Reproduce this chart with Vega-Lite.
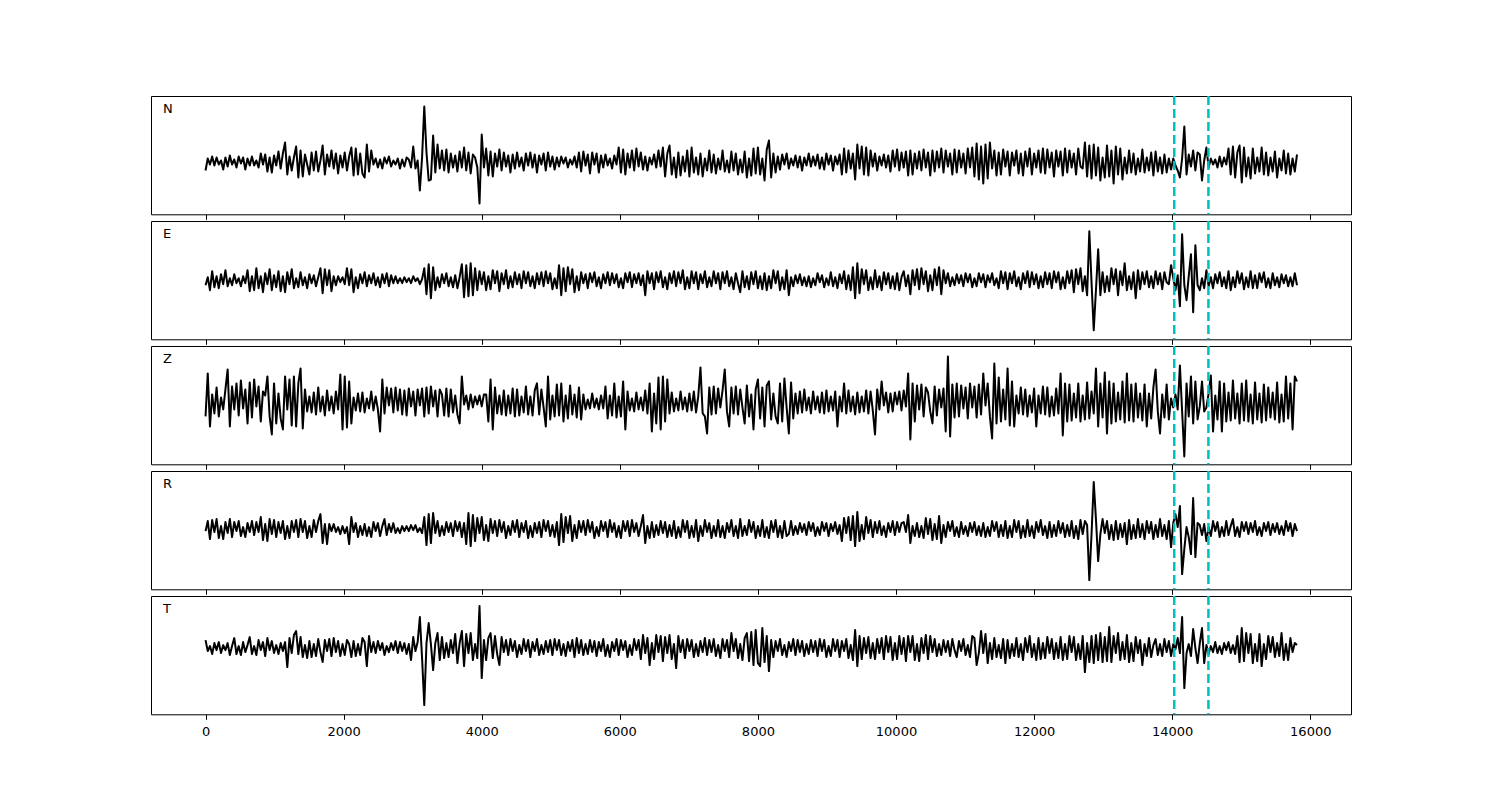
{
"$schema": "https://vega.github.io/schema/vega-lite/v6.json",
"background": "white",
"padding": {"left": 150, "top": 94, "right": 5, "bottom": 5},
"bounds": "flush",
"spacing": 6,
"config": {
  "view": {"stroke": "black", "strokeWidth": 1},
  "font": "DejaVu Sans",
  "axis": {"labelFont": "DejaVu Sans", "labelFontSize": 13, "labelColor": "black", "tickColor": "black", "tickSize": 5, "tickWidth": 1, "domain": false, "grid": false, "title": null, "format": "d"}
},
"datasets": {
"p": [{"t": 14030}, {"t": 14525}],
"w": [
{"t":0,"N":-8,"E":-5,"Z":-15,"R":-2,"T":8},
{"t":32,"N":4,"E":3,"Z":28,"R":8,"T":-3},
{"t":64,"N":-2,"E":-10,"Z":-25,"R":-10,"T":2},
{"t":96,"N":6,"E":9,"Z":7,"R":9,"T":-6},
{"t":128,"N":-3,"E":-7,"Z":-12,"R":-3,"T":5},
{"t":160,"N":5,"E":4,"Z":14,"R":10,"T":-2},
{"t":192,"N":-2,"E":-8,"Z":-15,"R":-9,"T":6},
{"t":224,"N":2,"E":6,"Z":4,"R":3,"T":-5},
{"t":256,"N":-7,"E":-4,"Z":-8,"R":-10,"T":3},
{"t":288,"N":5,"E":10,"Z":12,"R":7,"T":-2},
{"t":320,"N":-4,"E":-6,"Z":32,"R":-4,"T":5},
{"t":352,"N":7,"E":2,"Z":-25,"R":10,"T":-7},
{"t":384,"N":-2,"E":-5,"Z":15,"R":-8,"T":2},
{"t":416,"N":3,"E":6,"Z":-8,"R":7,"T":10},
{"t":448,"N":-5,"E":-3,"Z":18,"R":-2,"T":-6},
{"t":480,"N":6,"E":2,"Z":-14,"R":8,"T":2},
{"t":512,"N":-1,"E":-6,"Z":21,"R":-7,"T":-7},
{"t":544,"N":5,"E":4,"Z":-7,"R":2,"T":6},
{"t":576,"N":-7,"E":-3,"Z":12,"R":-8,"T":-4},
{"t":608,"N":4,"E":10,"Z":-22,"R":6,"T":3},
{"t":640,"N":-3,"E":-11,"Z":19,"R":-3,"T":11},
{"t":672,"N":6,"E":4,"Z":-16,"R":8,"T":-6},
{"t":704,"N":-3,"E":-10,"Z":22,"R":-6,"T":2},
{"t":736,"N":2,"E":12,"Z":-5,"R":7,"T":-7},
{"t":768,"N":-5,"E":-8,"Z":15,"R":-3,"T":8},
{"t":800,"N":9,"E":4,"Z":-20,"R":12,"T":-2},
{"t":832,"N":-2,"E":-12,"Z":10,"R":-11,"T":6},
{"t":864,"N":8,"E":7,"Z":6,"R":5,"T":-8},
{"t":896,"N":-9,"E":-4,"Z":25,"R":-12,"T":10},
{"t":928,"N":5,"E":11,"Z":-15,"R":10,"T":-2},
{"t":960,"N":-10,"E":-10,"Z":-33,"R":-5,"T":7},
{"t":992,"N":7,"E":5,"Z":18,"R":9,"T":-5},
{"t":1024,"N":-3,"E":-7,"Z":-22,"R":-8,"T":3},
{"t":1056,"N":11,"E":9,"Z":8,"R":7,"T":-6},
{"t":1088,"N":-6,"E":-11,"Z":-17,"R":-4,"T":5},
{"t":1120,"N":9,"E":4,"Z":-28,"R":8,"T":-3},
{"t":1152,"N":20,"E":-12,"Z":25,"R":-10,"T":6},
{"t":1184,"N":-12,"E":8,"Z":-8,"R":3,"T":-19},
{"t":1216,"N":6,"E":-4,"Z":22,"R":-9,"T":10},
{"t":1248,"N":-8,"E":11,"Z":-24,"R":8,"T":-5},
{"t":1280,"N":5,"E":-8,"Z":25,"R":-3,"T":13},
{"t":1312,"N":16,"E":2,"Z":-25,"R":9,"T":17},
{"t":1344,"N":-15,"E":-7,"Z":18,"R":-8,"T":-6},
{"t":1376,"N":12,"E":8,"Z":33,"R":10,"T":11},
{"t":1408,"N":-14,"E":-5,"Z":-27,"R":-3,"T":-9},
{"t":1440,"N":8,"E":3,"Z":12,"R":8,"T":3},
{"t":1472,"N":-2,"E":-8,"Z":-10,"R":-9,"T":-10},
{"t":1504,"N":-12,"E":6,"Z":5,"R":3,"T":7},
{"t":1536,"N":10,"E":-3,"Z":-11,"R":-8,"T":-9},
{"t":1568,"N":-8,"E":5,"Z":9,"R":9,"T":4},
{"t":1600,"N":11,"E":-6,"Z":-13,"R":-3,"T":-8},
{"t":1632,"N":-9,"E":3,"Z":14,"R":8,"T":9},
{"t":1664,"N":2,"E":12,"Z":-10,"R":15,"T":-4},
{"t":1696,"N":17,"E":-13,"Z":5,"R":-14,"T":-14},
{"t":1728,"N":-12,"E":11,"Z":-14,"R":5,"T":8},
{"t":1760,"N":8,"E":-5,"Z":11,"R":-15,"T":-3},
{"t":1792,"N":-4,"E":10,"Z":-9,"R":5,"T":9},
{"t":1824,"N":12,"E":-11,"Z":5,"R":-2,"T":-8},
{"t":1856,"N":-6,"E":4,"Z":-12,"R":5,"T":10},
{"t":1888,"N":9,"E":-5,"Z":10,"R":-3,"T":-4},
{"t":1920,"N":-11,"E":4,"Z":-8,"R":2,"T":7},
{"t":1952,"N":7,"E":-2,"Z":27,"R":-5,"T":-8},
{"t":1984,"N":-5,"E":3,"Z":-28,"R":3,"T":4},
{"t":2016,"N":10,"E":-4,"Z":25,"R":-4,"T":-7},
{"t":2048,"N":-8,"E":12,"Z":-26,"R":2,"T":8},
{"t":2080,"N":6,"E":-5,"Z":20,"R":-15,"T":4},
{"t":2112,"N":15,"E":11,"Z":-22,"R":12,"T":-9},
{"t":2144,"N":-13,"E":-12,"Z":4,"R":-3,"T":7},
{"t":2176,"N":14,"E":3,"Z":-9,"R":6,"T":-8},
{"t":2208,"N":-12,"E":-8,"Z":8,"R":-8,"T":4},
{"t":2240,"N":9,"E":6,"Z":-10,"R":3,"T":-7},
{"t":2272,"N":-11,"E":-3,"Z":9,"R":-6,"T":10},
{"t":2304,"N":-15,"E":8,"Z":-11,"R":5,"T":6},
{"t":2336,"N":18,"E":-6,"Z":3,"R":-7,"T":-18},
{"t":2368,"N":-9,"E":5,"Z":-7,"R":2,"T":12},
{"t":2400,"N":12,"E":-3,"Z":10,"R":-8,"T":-4},
{"t":2432,"N":-2,"E":7,"Z":-9,"R":7,"T":6},
{"t":2464,"N":4,"E":-5,"Z":5,"R":-2,"T":-5},
{"t":2496,"N":-5,"E":3,"Z":-8,"R":6,"T":7},
{"t":2528,"N":3,"E":-7,"Z":-30,"R":-7,"T":-2},
{"t":2560,"N":-6,"E":6,"Z":22,"R":3,"T":5},
{"t":2592,"N":5,"E":-3,"Z":-12,"R":10,"T":-7},
{"t":2624,"N":-1,"E":7,"Z":14,"R":-6,"T":2},
{"t":2656,"N":6,"E":-6,"Z":-4,"R":5,"T":-4},
{"t":2688,"N":-4,"E":5,"Z":13,"R":-3,"T":5},
{"t":2720,"N":2,"E":-3,"Z":-11,"R":6,"T":-2},
{"t":2752,"N":-2,"E":4,"Z":14,"R":-4,"T":7},
{"t":2784,"N":4,"E":-3,"Z":-9,"R":1,"T":-5},
{"t":2816,"N":-6,"E":2,"Z":12,"R":-4,"T":6},
{"t":2848,"N":3,"E":-3,"Z":-13,"R":3,"T":-3},
{"t":2880,"N":-4,"E":3,"Z":11,"R":-2,"T":5},
{"t":2912,"N":5,"E":-2,"Z":-14,"R":3,"T":-6},
{"t":2944,"N":3,"E":2,"Z":13,"R":-2,"T":4},
{"t":2976,"N":-5,"E":-3,"Z":-5,"R":4,"T":-12},
{"t":3008,"N":16,"E":4,"Z":10,"R":-1,"T":11},
{"t":3040,"N":-6,"E":-1,"Z":-14,"R":4,"T":-3},
{"t":3072,"N":2,"E":2,"Z":12,"R":-3,"T":6},
{"t":3104,"N":-28,"E":-4,"Z":-4,"R":1,"T":31},
{"t":3136,"N":5,"E":1,"Z":13,"R":-4,"T":-10},
{"t":3168,"N":56,"E":12,"Z":-15,"R":12,"T":-57},
{"t":3200,"N":10,"E":-14,"Z":14,"R":-16,"T":5},
{"t":3232,"N":-18,"E":16,"Z":-12,"R":15,"T":25},
{"t":3264,"N":-17,"E":-18,"Z":15,"R":-14,"T":4},
{"t":3296,"N":27,"E":13,"Z":-5,"R":16,"T":-22},
{"t":3328,"N":-10,"E":-10,"Z":11,"R":-4,"T":5},
{"t":3360,"N":18,"E":3,"Z":-15,"R":8,"T":15},
{"t":3392,"N":-6,"E":-7,"Z":12,"R":-7,"T":-12},
{"t":3424,"N":12,"E":6,"Z":7,"R":3,"T":11},
{"t":3456,"N":-8,"E":-3,"Z":-14,"R":-6,"T":-10},
{"t":3488,"N":13,"E":7,"Z":13,"R":7,"T":5},
{"t":3520,"N":-10,"E":-6,"Z":-15,"R":-3,"T":-9},
{"t":3552,"N":9,"E":3,"Z":12,"R":6,"T":8},
{"t":3584,"N":-5,"E":-7,"Z":-11,"R":-7,"T":-5},
{"t":3616,"N":7,"E":5,"Z":6,"R":8,"T":14},
{"t":3648,"N":-9,"E":-8,"Z":-13,"R":-2,"T":-15},
{"t":3680,"N":11,"E":3,"Z":-22,"R":7,"T":5},
{"t":3712,"N":-5,"E":16,"Z":25,"R":-8,"T":17},
{"t":3744,"N":15,"E":-17,"Z":-3,"R":6,"T":-18},
{"t":3776,"N":-8,"E":15,"Z":6,"R":-15,"T":14},
{"t":3808,"N":10,"E":-16,"Z":-8,"R":16,"T":-5},
{"t":3840,"N":-11,"E":17,"Z":7,"R":-17,"T":15},
{"t":3872,"N":8,"E":-15,"Z":-6,"R":14,"T":-12},
{"t":3904,"N":5,"E":12,"Z":5,"R":-12,"T":4},
{"t":3936,"N":-5,"E":-10,"Z":-3,"R":11,"T":-10},
{"t":3968,"N":-41,"E":9,"Z":6,"R":-4,"T":42},
{"t":4000,"N":28,"E":-4,"Z":-5,"R":12,"T":-30},
{"t":4032,"N":-5,"E":8,"Z":7,"R":-11,"T":8},
{"t":4064,"N":14,"E":-10,"Z":7,"R":4,"T":-12},
{"t":4096,"N":-13,"E":4,"Z":-20,"R":-12,"T":10},
{"t":4128,"N":11,"E":-9,"Z":22,"R":10,"T":15},
{"t":4160,"N":-14,"E":10,"Z":-28,"R":-4,"T":-10},
{"t":4192,"N":9,"E":-3,"Z":14,"R":8,"T":12},
{"t":4224,"N":-4,"E":9,"Z":-12,"R":-7,"T":-6},
{"t":4256,"N":13,"E":-11,"Z":6,"R":9,"T":-17},
{"t":4288,"N":-8,"E":7,"Z":-13,"R":-3,"T":11},
{"t":4320,"N":10,"E":-4,"Z":11,"R":7,"T":-4},
{"t":4352,"N":-4,"E":10,"Z":-14,"R":-9,"T":8},
{"t":4384,"N":7,"E":-8,"Z":6,"R":3,"T":-7},
{"t":4416,"N":-10,"E":4,"Z":-12,"R":-6,"T":9},
{"t":4448,"N":8,"E":-7,"Z":13,"R":8,"T":-3},
{"t":4480,"N":-6,"E":8,"Z":-15,"R":-3,"T":7},
{"t":4512,"N":10,"E":-4,"Z":12,"R":9,"T":-9},
{"t":4544,"N":-4,"E":6,"Z":-14,"R":-8,"T":3},
{"t":4576,"N":5,"E":-8,"Z":5,"R":6,"T":-6},
{"t":4608,"N":-8,"E":9,"Z":-11,"R":-3,"T":9},
{"t":4640,"N":9,"E":-3,"Z":15,"R":8,"T":-3},
{"t":4672,"N":-3,"E":8,"Z":-13,"R":-9,"T":8},
{"t":4704,"N":10,"E":-6,"Z":5,"R":3,"T":-9},
{"t":4736,"N":-5,"E":4,"Z":-14,"R":-8,"T":6},
{"t":4768,"N":8,"E":-8,"Z":11,"R":6,"T":-3},
{"t":4800,"N":-10,"E":7,"Z":18,"R":-4,"T":9},
{"t":4832,"N":7,"E":-4,"Z":-13,"R":7,"T":-7},
{"t":4864,"N":-2,"E":8,"Z":12,"R":-8,"T":3},
{"t":4896,"N":9,"E":-6,"Z":-6,"R":9,"T":-6},
{"t":4928,"N":-8,"E":9,"Z":-25,"R":-2,"T":7},
{"t":4960,"N":10,"E":-3,"Z":25,"R":8,"T":-4},
{"t":4992,"N":-4,"E":7,"Z":-18,"R":-7,"T":8},
{"t":5024,"N":6,"E":-9,"Z":6,"R":4,"T":-7},
{"t":5056,"N":-7,"E":2,"Z":-15,"R":-8,"T":9},
{"t":5088,"N":5,"E":-8,"Z":17,"R":7,"T":-2},
{"t":5120,"N":-4,"E":15,"Z":-14,"R":-16,"T":8},
{"t":5152,"N":6,"E":-15,"Z":18,"R":15,"T":-7},
{"t":5184,"N":-1,"E":12,"Z":-20,"R":-13,"T":4},
{"t":5216,"N":5,"E":-11,"Z":6,"R":12,"T":-8},
{"t":5248,"N":-5,"E":13,"Z":-17,"R":-4,"T":6},
{"t":5280,"N":3,"E":-4,"Z":16,"R":13,"T":-3},
{"t":5312,"N":-2,"E":11,"Z":-13,"R":-12,"T":8},
{"t":5344,"N":6,"E":-12,"Z":7,"R":4,"T":-9},
{"t":5376,"N":-5,"E":4,"Z":-16,"R":-9,"T":10},
{"t":5408,"N":10,"E":-10,"Z":14,"R":8,"T":-5},
{"t":5440,"N":-9,"E":8,"Z":-18,"R":-3,"T":8},
{"t":5472,"N":11,"E":-3,"Z":7,"R":8,"T":-7},
{"t":5504,"N":-3,"E":6,"Z":-8,"R":-6,"T":4},
{"t":5536,"N":8,"E":-8,"Z":2,"R":9,"T":-6},
{"t":5568,"N":-11,"E":7,"Z":-7,"R":-3,"T":8},
{"t":5600,"N":10,"E":-2,"Z":8,"R":7,"T":-4},
{"t":5632,"N":-2,"E":8,"Z":-6,"R":-9,"T":7},
{"t":5664,"N":9,"E":-6,"Z":3,"R":2,"T":-8},
{"t":5696,"N":-10,"E":3,"Z":-8,"R":-7,"T":6},
{"t":5728,"N":7,"E":-8,"Z":6,"R":8,"T":-3},
{"t":5760,"N":-5,"E":6,"Z":-7,"R":-2,"T":9},
{"t":5792,"N":8,"E":-3,"Z":15,"R":7,"T":-8},
{"t":5824,"N":-3,"E":8,"Z":-17,"R":-8,"T":3},
{"t":5856,"N":4,"E":-5,"Z":6,"R":9,"T":-9},
{"t":5888,"N":-6,"E":7,"Z":-14,"R":-3,"T":6},
{"t":5920,"N":7,"E":-3,"Z":18,"R":6,"T":-3},
{"t":5952,"N":-2,"E":6,"Z":-16,"R":-8,"T":9},
{"t":5984,"N":15,"E":-7,"Z":5,"R":3,"T":-7},
{"t":6016,"N":-10,"E":2,"Z":-15,"R":-9,"T":8},
{"t":6048,"N":13,"E":-8,"Z":20,"R":8,"T":-2},
{"t":6080,"N":-12,"E":7,"Z":-28,"R":-2,"T":7},
{"t":6112,"N":9,"E":-2,"Z":10,"R":8,"T":-9},
{"t":6144,"N":-5,"E":8,"Z":-9,"R":-7,"T":3},
{"t":6176,"N":12,"E":-7,"Z":3,"R":9,"T":-7},
{"t":6208,"N":-8,"E":6,"Z":-10,"R":-3,"T":9},
{"t":6240,"N":14,"E":-3,"Z":9,"R":6,"T":-2},
{"t":6272,"N":-4,"E":7,"Z":-8,"R":-7,"T":8},
{"t":6304,"N":10,"E":-5,"Z":4,"R":3,"T":-11},
{"t":6336,"N":-7,"E":5,"Z":-9,"R":14,"T":13},
{"t":6368,"N":6,"E":-15,"Z":11,"R":-14,"T":-5},
{"t":6400,"N":-8,"E":9,"Z":-12,"R":3,"T":10},
{"t":6432,"N":5,"E":-3,"Z":18,"R":-9,"T":-17},
{"t":6464,"N":-2,"E":7,"Z":-30,"R":7,"T":5},
{"t":6496,"N":8,"E":-9,"Z":8,"R":-8,"T":-11},
{"t":6528,"N":-5,"E":8,"Z":-22,"R":4,"T":13},
{"t":6560,"N":12,"E":-2,"Z":24,"R":-6,"T":-4},
{"t":6592,"N":-4,"E":9,"Z":-28,"R":8,"T":12},
{"t":6624,"N":15,"E":-7,"Z":25,"R":-4,"T":-13},
{"t":6656,"N":-14,"E":3,"Z":-20,"R":7,"T":11},
{"t":6688,"N":9,"E":-9,"Z":22,"R":-8,"T":-5},
{"t":6720,"N":17,"E":7,"Z":-12,"R":4,"T":13},
{"t":6752,"N":-12,"E":-3,"Z":9,"R":-7,"T":-11},
{"t":6784,"N":5,"E":9,"Z":-10,"R":8,"T":4},
{"t":6816,"N":-15,"E":-6,"Z":3,"R":-9,"T":-20},
{"t":6848,"N":10,"E":8,"Z":-9,"R":2,"T":12},
{"t":6880,"N":-13,"E":-3,"Z":10,"R":-8,"T":-4},
{"t":6912,"N":6,"E":10,"Z":-8,"R":9,"T":8},
{"t":6944,"N":-9,"E":-9,"Z":4,"R":-3,"T":-10},
{"t":6976,"N":12,"E":3,"Z":-10,"R":8,"T":9},
{"t":7008,"N":-14,"E":-8,"Z":8,"R":-9,"T":-3},
{"t":7040,"N":15,"E":9,"Z":-9,"R":3,"T":8},
{"t":7072,"N":-10,"E":-3,"Z":10,"R":-8,"T":-9},
{"t":7104,"N":5,"E":8,"Z":-11,"R":9,"T":4},
{"t":7136,"N":-12,"E":-9,"Z":5,"R":-12,"T":-8},
{"t":7168,"N":9,"E":6,"Z":34,"R":3,"T":7},
{"t":7200,"N":-14,"E":-3,"Z":-12,"R":-7,"T":-4},
{"t":7232,"N":4,"E":9,"Z":-15,"R":9,"T":10},
{"t":7264,"N":-8,"E":-7,"Z":-32,"R":-3,"T":-7},
{"t":7296,"N":12,"E":3,"Z":14,"R":6,"T":8},
{"t":7328,"N":-10,"E":-6,"Z":-13,"R":-9,"T":-4},
{"t":7360,"N":8,"E":9,"Z":15,"R":3,"T":9},
{"t":7392,"N":-11,"E":-3,"Z":-12,"R":-7,"T":-8},
{"t":7424,"N":4,"E":7,"Z":13,"R":9,"T":3},
{"t":7456,"N":-7,"E":-9,"Z":-6,"R":-8,"T":-10},
{"t":7488,"N":12,"E":8,"Z":11,"R":3,"T":9},
{"t":7520,"N":-9,"E":-3,"Z":32,"R":-9,"T":-3},
{"t":7552,"N":2,"E":9,"Z":-10,"R":6,"T":8},
{"t":7584,"N":-10,"E":-6,"Z":-25,"R":-3,"T":-9},
{"t":7616,"N":11,"E":3,"Z":14,"R":9,"T":15},
{"t":7648,"N":-8,"E":-9,"Z":-12,"R":-7,"T":-3},
{"t":7680,"N":9,"E":7,"Z":15,"R":3,"T":9},
{"t":7712,"N":-12,"E":-3,"Z":-13,"R":-9,"T":-10},
{"t":7744,"N":3,"E":-12,"Z":12,"R":10,"T":4},
{"t":7776,"N":-10,"E":9,"Z":-6,"R":-7,"T":-12},
{"t":7808,"N":11,"E":-7,"Z":-22,"R":3,"T":10},
{"t":7840,"N":-15,"E":4,"Z":16,"R":-6,"T":15},
{"t":7872,"N":4,"E":-9,"Z":-15,"R":9,"T":-13},
{"t":7904,"N":-13,"E":8,"Z":7,"R":-3,"T":16},
{"t":7936,"N":14,"E":-4,"Z":-28,"R":7,"T":-17},
{"t":7968,"N":-11,"E":9,"Z":12,"R":-9,"T":18},
{"t":8000,"N":15,"E":-8,"Z":22,"R":3,"T":-15},
{"t":8032,"N":-12,"E":4,"Z":-17,"R":-7,"T":-18},
{"t":8064,"N":4,"E":-9,"Z":14,"R":9,"T":20},
{"t":8096,"N":-18,"E":7,"Z":-25,"R":-8,"T":-14},
{"t":8128,"N":13,"E":-10,"Z":16,"R":2,"T":12},
{"t":8160,"N":22,"E":4,"Z":20,"R":-9,"T":-23},
{"t":8192,"N":-15,"E":-8,"Z":-18,"R":8,"T":8},
{"t":8224,"N":9,"E":10,"Z":8,"R":-3,"T":-9},
{"t":8256,"N":-10,"E":-3,"Z":-15,"R":9,"T":7},
{"t":8288,"N":6,"E":9,"Z":-22,"R":-8,"T":-3},
{"t":8320,"N":-7,"E":-10,"Z":18,"R":3,"T":9},
{"t":8352,"N":8,"E":3,"Z":-20,"R":-9,"T":-7},
{"t":8384,"N":-2,"E":-9,"Z":23,"R":8,"T":3},
{"t":8416,"N":9,"E":10,"Z":-6,"R":-7,"T":-9},
{"t":8448,"N":-6,"E":-15,"Z":-32,"R":-5,"T":6},
{"t":8480,"N":4,"E":3,"Z":19,"R":8,"T":-3},
{"t":8512,"N":-3,"E":-6,"Z":-17,"R":-6,"T":9},
{"t":8544,"N":7,"E":5,"Z":8,"R":3,"T":-7},
{"t":8576,"N":-5,"E":-3,"Z":-12,"R":-5,"T":8},
{"t":8608,"N":6,"E":6,"Z":10,"R":6,"T":-4},
{"t":8640,"N":-8,"E":-5,"Z":-11,"R":-3,"T":7},
{"t":8672,"N":5,"E":3,"Z":12,"R":5,"T":-8},
{"t":8704,"N":-3,"E":-6,"Z":-9,"R":-6,"T":4},
{"t":8736,"N":9,"E":4,"Z":4,"R":7,"T":-6},
{"t":8768,"N":-4,"E":-7,"Z":-12,"R":-2,"T":8},
{"t":8800,"N":6,"E":2,"Z":10,"R":6,"T":-4},
{"t":8832,"N":-3,"E":-5,"Z":-8,"R":-7,"T":7},
{"t":8864,"N":8,"E":7,"Z":5,"R":2,"T":-8},
{"t":8896,"N":-6,"E":-2,"Z":-11,"R":-6,"T":9},
{"t":8928,"N":5,"E":5,"Z":9,"R":7,"T":-3},
{"t":8960,"N":-7,"E":-7,"Z":-12,"R":-2,"T":8},
{"t":8992,"N":9,"E":2,"Z":11,"R":6,"T":-9},
{"t":9024,"N":-2,"E":-5,"Z":-10,"R":-7,"T":2},
{"t":9056,"N":7,"E":8,"Z":5,"R":5,"T":-8},
{"t":9088,"N":-8,"E":-6,"Z":-9,"R":-2,"T":9},
{"t":9120,"N":6,"E":3,"Z":10,"R":7,"T":-3},
{"t":9152,"N":-2,"E":-8,"Z":-25,"R":-5,"T":8},
{"t":9184,"N":8,"E":6,"Z":5,"R":4,"T":-9},
{"t":9216,"N":-12,"E":-3,"Z":-10,"R":-12,"T":7},
{"t":9248,"N":14,"E":9,"Z":18,"R":11,"T":-3},
{"t":9280,"N":-10,"E":-9,"Z":-12,"R":-4,"T":9},
{"t":9312,"N":12,"E":5,"Z":11,"R":12,"T":-10},
{"t":9344,"N":-6,"E":-10,"Z":-10,"R":-11,"T":3},
{"t":9376,"N":9,"E":13,"Z":5,"R":13,"T":-12},
{"t":9408,"N":-17,"E":-18,"Z":-13,"R":-17,"T":18},
{"t":9440,"N":18,"E":17,"Z":9,"R":17,"T":-18},
{"t":9472,"N":-6,"E":-13,"Z":-11,"R":-12,"T":12},
{"t":9504,"N":16,"E":11,"Z":5,"R":4,"T":-11},
{"t":9536,"N":-12,"E":-4,"Z":-10,"R":-10,"T":10},
{"t":9568,"N":15,"E":10,"Z":11,"R":12,"T":-5},
{"t":9600,"N":-13,"E":-10,"Z":-12,"R":-4,"T":11},
{"t":9632,"N":12,"E":3,"Z":10,"R":9,"T":-10},
{"t":9664,"N":-4,"E":-9,"Z":-9,"R":-8,"T":5},
{"t":9696,"N":9,"E":10,"Z":-33,"R":7,"T":-11},
{"t":9728,"N":-8,"E":-7,"Z":12,"R":-4,"T":9},
{"t":9760,"N":6,"E":4,"Z":-8,"R":8,"T":-5},
{"t":9792,"N":-3,"E":-10,"Z":20,"R":-6,"T":10},
{"t":9824,"N":8,"E":8,"Z":-4,"R":3,"T":-11},
{"t":9856,"N":-5,"E":-4,"Z":9,"R":-8,"T":12},
{"t":9888,"N":7,"E":7,"Z":-11,"R":6,"T":-4},
{"t":9920,"N":-9,"E":-8,"Z":8,"R":-3,"T":11},
{"t":9952,"N":12,"E":4,"Z":-10,"R":8,"T":-12},
{"t":9984,"N":-4,"E":-9,"Z":9,"R":-6,"T":5},
{"t":10016,"N":13,"E":7,"Z":-3,"R":7,"T":-11},
{"t":10048,"N":-8,"E":-10,"Z":10,"R":-3,"T":12},
{"t":10080,"N":10,"E":3,"Z":-9,"R":6,"T":-6},
{"t":10112,"N":-5,"E":9,"Z":11,"R":7,"T":10},
{"t":10144,"N":11,"E":-6,"Z":-5,"R":-3,"T":-13},
{"t":10176,"N":-13,"E":5,"Z":28,"R":14,"T":12},
{"t":10208,"N":12,"E":-14,"Z":-38,"R":-14,"T":-4},
{"t":10240,"N":-12,"E":10,"Z":18,"R":3,"T":12},
{"t":10272,"N":9,"E":-5,"Z":-20,"R":-7,"T":-12},
{"t":10304,"N":-6,"E":11,"Z":16,"R":6,"T":4},
{"t":10336,"N":11,"E":-9,"Z":-8,"R":-8,"T":-13},
{"t":10368,"N":-8,"E":12,"Z":17,"R":3,"T":10},
{"t":10400,"N":13,"E":-4,"Z":-15,"R":-9,"T":-5},
{"t":10432,"N":-5,"E":9,"Z":14,"R":11,"T":13},
{"t":10464,"N":10,"E":-11,"Z":9,"R":-5,"T":-11},
{"t":10496,"N":-13,"E":5,"Z":-10,"R":10,"T":12},
{"t":10528,"N":12,"E":-10,"Z":-22,"R":-11,"T":-4},
{"t":10560,"N":-9,"E":11,"Z":15,"R":5,"T":9},
{"t":10592,"N":11,"E":-5,"Z":-14,"R":-10,"T":-8},
{"t":10624,"N":-5,"E":13,"Z":12,"R":13,"T":4},
{"t":10656,"N":14,"E":-14,"Z":-6,"R":-14,"T":-7},
{"t":10688,"N":-10,"E":10,"Z":13,"R":4,"T":8},
{"t":10720,"N":12,"E":-3,"Z":-30,"R":-8,"T":-4},
{"t":10752,"N":-4,"E":7,"Z":45,"R":7,"T":7},
{"t":10784,"N":9,"E":-6,"Z":-35,"R":-2,"T":-8},
{"t":10816,"N":-12,"E":3,"Z":17,"R":8,"T":9},
{"t":10848,"N":13,"E":-5,"Z":-16,"R":-7,"T":-2},
{"t":10880,"N":-10,"E":6,"Z":18,"R":2,"T":-9},
{"t":10912,"N":12,"E":-3,"Z":-15,"R":-8,"T":7},
{"t":10944,"N":-5,"E":5,"Z":16,"R":7,"T":-3},
{"t":10976,"N":9,"E":-6,"Z":-7,"R":-5,"T":9},
{"t":11008,"N":-11,"E":7,"Z":14,"R":3,"T":-7},
{"t":11040,"N":14,"E":-2,"Z":-17,"R":-7,"T":3},
{"t":11072,"N":-5,"E":6,"Z":18,"R":6,"T":-9},
{"t":11104,"N":15,"E":-7,"Z":-6,"R":-3,"T":12},
{"t":11136,"N":-14,"E":2,"Z":15,"R":7,"T":10},
{"t":11168,"N":19,"E":-6,"Z":-16,"R":-6,"T":-17},
{"t":11200,"N":-17,"E":7,"Z":17,"R":3,"T":-5},
{"t":11232,"N":16,"E":-2,"Z":-13,"R":-7,"T":17},
{"t":11264,"N":-21,"E":6,"Z":28,"R":6,"T":-5},
{"t":11296,"N":18,"E":-7,"Z":-4,"R":-8,"T":14},
{"t":11328,"N":-16,"E":5,"Z":18,"R":2,"T":-15},
{"t":11360,"N":20,"E":-2,"Z":-15,"R":-7,"T":5},
{"t":11392,"N":-6,"E":7,"Z":-37,"R":8,"T":-11},
{"t":11424,"N":12,"E":-5,"Z":38,"R":-2,"T":10},
{"t":11456,"N":-13,"E":2,"Z":-22,"R":7,"T":-9},
{"t":11488,"N":10,"E":-8,"Z":24,"R":-8,"T":3},
{"t":11520,"N":-12,"E":9,"Z":-20,"R":4,"T":-10},
{"t":11552,"N":13,"E":-3,"Z":12,"R":-7,"T":9},
{"t":11584,"N":-4,"E":8,"Z":-18,"R":8,"T":-15},
{"t":11616,"N":11,"E":-9,"Z":33,"R":-9,"T":8},
{"t":11648,"N":-13,"E":7,"Z":-24,"R":3,"T":-10},
{"t":11680,"N":10,"E":-3,"Z":20,"R":-8,"T":4},
{"t":11712,"N":-3,"E":9,"Z":-25,"R":9,"T":-8},
{"t":11744,"N":12,"E":-6,"Z":6,"R":-3,"T":10},
{"t":11776,"N":-11,"E":3,"Z":-12,"R":8,"T":-9},
{"t":11808,"N":9,"E":-9,"Z":14,"R":-9,"T":4},
{"t":11840,"N":-13,"E":7,"Z":-13,"R":3,"T":-12},
{"t":11872,"N":11,"E":-3,"Z":12,"R":-8,"T":10},
{"t":11904,"N":-4,"E":9,"Z":-15,"R":9,"T":-4},
{"t":11936,"N":14,"E":-7,"Z":6,"R":-7,"T":12},
{"t":11968,"N":-12,"E":8,"Z":-11,"R":3,"T":-9},
{"t":12000,"N":9,"E":-4,"Z":13,"R":-9,"T":4},
{"t":12032,"N":-5,"E":6,"Z":-25,"R":7,"T":-12},
{"t":12064,"N":12,"E":-8,"Z":6,"R":-3,"T":10},
{"t":12096,"N":-10,"E":4,"Z":-12,"R":9,"T":-11},
{"t":12128,"N":14,"E":-7,"Z":15,"R":-6,"T":5},
{"t":12160,"N":-11,"E":8,"Z":-13,"R":3,"T":-10},
{"t":12192,"N":13,"E":-4,"Z":14,"R":-9,"T":11},
{"t":12224,"N":-5,"E":7,"Z":-15,"R":7,"T":-5},
{"t":12256,"N":10,"E":-8,"Z":5,"R":-8,"T":9},
{"t":12288,"N":-14,"E":9,"Z":-14,"R":4,"T":-11},
{"t":12320,"N":12,"E":-2,"Z":13,"R":-7,"T":5},
{"t":12352,"N":-4,"E":8,"Z":-12,"R":8,"T":-10},
{"t":12384,"N":11,"E":-9,"Z":28,"R":-4,"T":11},
{"t":12416,"N":-13,"E":3,"Z":-34,"R":6,"T":-12},
{"t":12448,"N":14,"E":-8,"Z":18,"R":-8,"T":4},
{"t":12480,"N":-10,"E":9,"Z":-20,"R":4,"T":-11},
{"t":12512,"N":12,"E":-3,"Z":17,"R":-7,"T":12},
{"t":12544,"N":-5,"E":10,"Z":-19,"R":8,"T":-4},
{"t":12576,"N":9,"E":-12,"Z":8,"R":-9,"T":11},
{"t":12608,"N":-12,"E":11,"Z":-16,"R":3,"T":-12},
{"t":12640,"N":14,"E":-4,"Z":18,"R":-10,"T":4},
{"t":12672,"N":-4,"E":12,"Z":-20,"R":9,"T":-11},
{"t":12704,"N":-6,"E":-11,"Z":6,"R":-5,"T":12},
{"t":12736,"N":20,"E":4,"Z":-18,"R":8,"T":-24},
{"t":12768,"N":-14,"E":-15,"Z":19,"R":4,"T":5},
{"t":12800,"N":17,"E":49,"Z":-17,"R":-51,"T":-14},
{"t":12832,"N":-16,"E":-2,"Z":10,"R":-5,"T":12},
{"t":12864,"N":18,"E":-50,"Z":-12,"R":47,"T":-15},
{"t":12896,"N":-13,"E":-10,"Z":33,"R":10,"T":13},
{"t":12928,"N":15,"E":31,"Z":-25,"R":-32,"T":-12},
{"t":12960,"N":-18,"E":-15,"Z":18,"R":-5,"T":15},
{"t":12992,"N":5,"E":8,"Z":-16,"R":10,"T":-14},
{"t":13024,"N":-15,"E":-12,"Z":29,"R":-4,"T":11},
{"t":13056,"N":17,"E":4,"Z":-32,"R":8,"T":-13},
{"t":13088,"N":-14,"E":-11,"Z":20,"R":-10,"T":21},
{"t":13120,"N":12,"E":12,"Z":-22,"R":4,"T":-14},
{"t":13152,"N":-21,"E":-4,"Z":18,"R":-11,"T":12},
{"t":13184,"N":16,"E":11,"Z":-20,"R":8,"T":-5},
{"t":13216,"N":-12,"E":-15,"Z":9,"R":-10,"T":15},
{"t":13248,"N":14,"E":9,"Z":-18,"R":5,"T":-12},
{"t":13280,"N":-17,"E":-5,"Z":20,"R":-8,"T":6},
{"t":13312,"N":5,"E":17,"Z":-21,"R":6,"T":-11},
{"t":13344,"N":-11,"E":-10,"Z":28,"R":-15,"T":13},
{"t":13376,"N":12,"E":4,"Z":-19,"R":9,"T":-14},
{"t":13408,"N":-10,"E":-9,"Z":17,"R":-10,"T":5},
{"t":13440,"N":9,"E":8,"Z":-20,"R":4,"T":-13},
{"t":13472,"N":-12,"E":-18,"Z":18,"R":-9,"T":11},
{"t":13504,"N":4,"E":10,"Z":-16,"R":10,"T":-5},
{"t":13536,"N":-9,"E":-9,"Z":8,"R":-8,"T":8},
{"t":13568,"N":13,"E":8,"Z":-19,"R":5,"T":-17},
{"t":13600,"N":-10,"E":-4,"Z":17,"R":-10,"T":4},
{"t":13632,"N":5,"E":9,"Z":-25,"R":8,"T":-8},
{"t":13664,"N":-8,"E":-7,"Z":8,"R":-4,"T":10},
{"t":13696,"N":10,"E":4,"Z":-17,"R":7,"T":-9},
{"t":13728,"N":-13,"E":-8,"Z":14,"R":-10,"T":3},
{"t":13760,"N":11,"E":9,"Z":32,"R":4,"T":9},
{"t":13792,"N":-9,"E":-4,"Z":-10,"R":-8,"T":-7},
{"t":13824,"N":5,"E":7,"Z":-32,"R":10,"T":4},
{"t":13856,"N":-11,"E":-9,"Z":7,"R":-7,"T":-8},
{"t":13888,"N":8,"E":8,"Z":-16,"R":4,"T":9},
{"t":13920,"N":-10,"E":-2,"Z":17,"R":-10,"T":-4},
{"t":13952,"N":4,"E":-4,"Z":-18,"R":8,"T":7},
{"t":13984,"N":-7,"E":15,"Z":3,"R":-18,"T":-8},
{"t":14016,"N":4,"E":2,"Z":-6,"R":6,"T":4},
{"t":14048,"N":-3,"E":-10,"Z":7,"R":15,"T":-1},
{"t":14080,"N":-8,"E":5,"Z":-8,"R":2,"T":10},
{"t":14112,"N":-15,"E":-26,"Z":36,"R":23,"T":-5},
{"t":14144,"N":4,"E":46,"Z":-10,"R":-45,"T":31},
{"t":14176,"N":36,"E":-5,"Z":-55,"R":-20,"T":-40},
{"t":14208,"N":-12,"E":-20,"Z":18,"R":2,"T":-5},
{"t":14240,"N":8,"E":4,"Z":-15,"R":-8,"T":4},
{"t":14272,"N":-4,"E":26,"Z":25,"R":-25,"T":-8},
{"t":14304,"N":12,"E":-32,"Z":-22,"R":31,"T":19},
{"t":14336,"N":-8,"E":35,"Z":20,"R":-28,"T":0},
{"t":14368,"N":10,"E":-5,"Z":-18,"R":6,"T":-15},
{"t":14400,"N":8,"E":-10,"Z":-5,"R":4,"T":5},
{"t":14432,"N":-18,"E":2,"Z":20,"R":-6,"T":20},
{"t":14464,"N":2,"E":-8,"Z":-10,"R":5,"T":-15},
{"t":14496,"N":15,"E":10,"Z":-6,"R":-12,"T":3},
{"t":14528,"N":-5,"E":-6,"Z":8,"R":2,"T":-6},
{"t":14560,"N":4,"E":3,"Z":26,"R":-7,"T":2},
{"t":14592,"N":-2,"E":-8,"Z":-30,"R":8,"T":-4},
{"t":14624,"N":3,"E":6,"Z":6,"R":-2,"T":6},
{"t":14656,"N":-5,"E":-3,"Z":-18,"R":7,"T":-5},
{"t":14688,"N":6,"E":8,"Z":20,"R":-8,"T":2},
{"t":14720,"N":-4,"E":-6,"Z":-30,"R":2,"T":-6},
{"t":14752,"N":5,"E":3,"Z":18,"R":-7,"T":5},
{"t":14784,"N":-2,"E":-8,"Z":-20,"R":8,"T":-2},
{"t":14816,"N":14,"E":9,"Z":9,"R":-6,"T":6},
{"t":14848,"N":-12,"E":-10,"Z":-19,"R":3,"T":-5},
{"t":14880,"N":16,"E":3,"Z":21,"R":10,"T":3},
{"t":14912,"N":-15,"E":-7,"Z":-17,"R":-7,"T":-6},
{"t":14944,"N":10,"E":9,"Z":8,"R":2,"T":12},
{"t":14976,"N":17,"E":-3,"Z":-22,"R":-8,"T":-14},
{"t":15008,"N":-20,"E":7,"Z":18,"R":7,"T":20},
{"t":15040,"N":15,"E":-9,"Z":-19,"R":-2,"T":-13},
{"t":15072,"N":-14,"E":3,"Z":21,"R":7,"T":15},
{"t":15104,"N":5,"E":-7,"Z":-20,"R":-5,"T":-5},
{"t":15136,"N":-16,"E":9,"Z":7,"R":6,"T":14},
{"t":15168,"N":14,"E":-8,"Z":-22,"R":-3,"T":-15},
{"t":15200,"N":-11,"E":5,"Z":19,"R":8,"T":4},
{"t":15232,"N":5,"E":-8,"Z":-18,"R":-6,"T":-13},
{"t":15264,"N":-9,"E":7,"Z":8,"R":2,"T":14},
{"t":15296,"N":15,"E":-2,"Z":-21,"R":-7,"T":-18},
{"t":15328,"N":-12,"E":8,"Z":17,"R":6,"T":4},
{"t":15360,"N":10,"E":-7,"Z":-19,"R":-2,"T":-11},
{"t":15392,"N":-13,"E":2,"Z":14,"R":7,"T":12},
{"t":15424,"N":5,"E":-8,"Z":-16,"R":-6,"T":-4},
{"t":15456,"N":-9,"E":7,"Z":9,"R":5,"T":11},
{"t":15488,"N":11,"E":-5,"Z":-18,"R":-3,"T":-9},
{"t":15520,"N":-15,"E":3,"Z":19,"R":6,"T":5},
{"t":15552,"N":4,"E":-7,"Z":-21,"R":-5,"T":-8},
{"t":15584,"N":-8,"E":6,"Z":7,"R":3,"T":15},
{"t":15616,"N":12,"E":-3,"Z":-20,"R":-6,"T":-12},
{"t":15648,"N":-11,"E":5,"Z":25,"R":8,"T":4},
{"t":15680,"N":9,"E":-6,"Z":-17,"R":-2,"T":-12},
{"t":15712,"N":-12,"E":3,"Z":18,"R":6,"T":10},
{"t":15744,"N":4,"E":-6,"Z":-28,"R":-7,"T":-4},
{"t":15776,"N":-9,"E":7,"Z":25,"R":5,"T":5},
{"t":15808,"N":8,"E":-5,"Z":20,"R":-2,"T":3}
]
},
"vconcat": [
{
 "width": 1200, "height": 118.3,
 "layer": [
  {"data": {"name": "w"}, "mark": {"type": "line", "color": "black", "strokeWidth": 2, "strokeJoin": "round"},
   "encoding": {
    "x": {"field": "t", "type": "quantitative", "scale": {"domain": [-790, 16590], "nice": false, "zero": false}, "axis": {"values": [0, 2000, 4000, 6000, 8000, 10000, 12000, 14000, 16000], "labels": false, "title": null}},
    "y": {"field": "N", "type": "quantitative", "scale": {"domain": [-51.8, 66.5], "nice": false, "zero": false}, "axis": null}}},
  {"data": {"name": "p"}, "mark": {"type": "rule", "color": "#00bfbf", "strokeWidth": 2.5, "strokeDash": [9, 4]},
   "encoding": {"x": {"field": "t", "type": "quantitative", "axis": {"values": [0, 2000, 4000, 6000, 8000, 10000, 12000, 14000, 16000], "labels": false, "title": null}}}},
  {"data": {"values": [{"c": "N"}]}, "mark": {"type": "text", "align": "left", "baseline": "top", "fontSize": 13, "font": "DejaVu Sans", "color": "black"},
   "encoding": {"x": {"datum": -617, "type": "quantitative", "axis": {"values": [0, 2000, 4000, 6000, 8000, 10000, 12000, 14000, 16000], "labels": false, "title": null}}, "y": {"datum": 60, "type": "quantitative", "axis": null}, "text": {"field": "c"}}}
 ]
},
{
 "width": 1200, "height": 118.3,
 "layer": [
  {"data": {"name": "w"}, "mark": {"type": "line", "color": "black", "strokeWidth": 2, "strokeJoin": "round"},
   "encoding": {
    "x": {"field": "t", "type": "quantitative", "scale": {"domain": [-790, 16590], "nice": false, "zero": false}, "axis": {"values": [0, 2000, 4000, 6000, 8000, 10000, 12000, 14000, 16000], "labels": false, "title": null}},
    "y": {"field": "E", "type": "quantitative", "scale": {"domain": [-59.1, 59.2], "nice": false, "zero": false}, "axis": null}}},
  {"data": {"name": "p"}, "mark": {"type": "rule", "color": "#00bfbf", "strokeWidth": 2.5, "strokeDash": [9, 4]},
   "encoding": {"x": {"field": "t", "type": "quantitative", "axis": {"values": [0, 2000, 4000, 6000, 8000, 10000, 12000, 14000, 16000], "labels": false, "title": null}}}},
  {"data": {"values": [{"c": "E"}]}, "mark": {"type": "text", "align": "left", "baseline": "top", "fontSize": 13, "font": "DejaVu Sans", "color": "black"},
   "encoding": {"x": {"datum": -617, "type": "quantitative", "axis": {"values": [0, 2000, 4000, 6000, 8000, 10000, 12000, 14000, 16000], "labels": false, "title": null}}, "y": {"datum": 52.7, "type": "quantitative", "axis": null}, "text": {"field": "c"}}}
 ]
},
{
 "width": 1200, "height": 118.3,
 "layer": [
  {"data": {"name": "w"}, "mark": {"type": "line", "color": "black", "strokeWidth": 2, "strokeJoin": "round"},
   "encoding": {
    "x": {"field": "t", "type": "quantitative", "scale": {"domain": [-790, 16590], "nice": false, "zero": false}, "axis": {"values": [0, 2000, 4000, 6000, 8000, 10000, 12000, 14000, 16000], "labels": false, "title": null}},
    "y": {"field": "Z", "type": "quantitative", "scale": {"domain": [-62.9, 55.4], "nice": false, "zero": false}, "axis": null}}},
  {"data": {"name": "p"}, "mark": {"type": "rule", "color": "#00bfbf", "strokeWidth": 2.5, "strokeDash": [9, 4]},
   "encoding": {"x": {"field": "t", "type": "quantitative", "axis": {"values": [0, 2000, 4000, 6000, 8000, 10000, 12000, 14000, 16000], "labels": false, "title": null}}}},
  {"data": {"values": [{"c": "Z"}]}, "mark": {"type": "text", "align": "left", "baseline": "top", "fontSize": 13, "font": "DejaVu Sans", "color": "black"},
   "encoding": {"x": {"datum": -617, "type": "quantitative", "axis": {"values": [0, 2000, 4000, 6000, 8000, 10000, 12000, 14000, 16000], "labels": false, "title": null}}, "y": {"datum": 48.9, "type": "quantitative", "axis": null}, "text": {"field": "c"}}}
 ]
},
{
 "width": 1200, "height": 118.3,
 "layer": [
  {"data": {"name": "w"}, "mark": {"type": "line", "color": "black", "strokeWidth": 2, "strokeJoin": "round"},
   "encoding": {
    "x": {"field": "t", "type": "quantitative", "scale": {"domain": [-790, 16590], "nice": false, "zero": false}, "axis": {"values": [0, 2000, 4000, 6000, 8000, 10000, 12000, 14000, 16000], "labels": false, "title": null}},
    "y": {"field": "R", "type": "quantitative", "scale": {"domain": [-60.2, 58.1], "nice": false, "zero": false}, "axis": null}}},
  {"data": {"name": "p"}, "mark": {"type": "rule", "color": "#00bfbf", "strokeWidth": 2.5, "strokeDash": [9, 4]},
   "encoding": {"x": {"field": "t", "type": "quantitative", "axis": {"values": [0, 2000, 4000, 6000, 8000, 10000, 12000, 14000, 16000], "labels": false, "title": null}}}},
  {"data": {"values": [{"c": "R"}]}, "mark": {"type": "text", "align": "left", "baseline": "top", "fontSize": 13, "font": "DejaVu Sans", "color": "black"},
   "encoding": {"x": {"datum": -617, "type": "quantitative", "axis": {"values": [0, 2000, 4000, 6000, 8000, 10000, 12000, 14000, 16000], "labels": false, "title": null}}, "y": {"datum": 51.6, "type": "quantitative", "axis": null}, "text": {"field": "c"}}}
 ]
},
{
 "width": 1200, "height": 118.3,
 "layer": [
  {"data": {"name": "w"}, "mark": {"type": "line", "color": "black", "strokeWidth": 2, "strokeJoin": "round"},
   "encoding": {
    "x": {"field": "t", "type": "quantitative", "scale": {"domain": [-790, 16590], "nice": false, "zero": false}, "axis": {"values": [0, 2000, 4000, 6000, 8000, 10000, 12000, 14000, 16000], "labelPadding": 6, "title": null}},
    "y": {"field": "T", "type": "quantitative", "scale": {"domain": [-66.2, 52.1], "nice": false, "zero": false}, "axis": null}}},
  {"data": {"name": "p"}, "mark": {"type": "rule", "color": "#00bfbf", "strokeWidth": 2.5, "strokeDash": [9, 4]},
   "encoding": {"x": {"field": "t", "type": "quantitative", "axis": {"values": [0, 2000, 4000, 6000, 8000, 10000, 12000, 14000, 16000], "labelPadding": 6, "title": null}}}},
  {"data": {"values": [{"c": "T"}]}, "mark": {"type": "text", "align": "left", "baseline": "top", "fontSize": 13, "font": "DejaVu Sans", "color": "black"},
   "encoding": {"x": {"datum": -617, "type": "quantitative", "axis": {"values": [0, 2000, 4000, 6000, 8000, 10000, 12000, 14000, 16000], "labelPadding": 6, "title": null}}, "y": {"datum": 45.6, "type": "quantitative", "axis": null}, "text": {"field": "c"}}}
 ]
}
]
}
